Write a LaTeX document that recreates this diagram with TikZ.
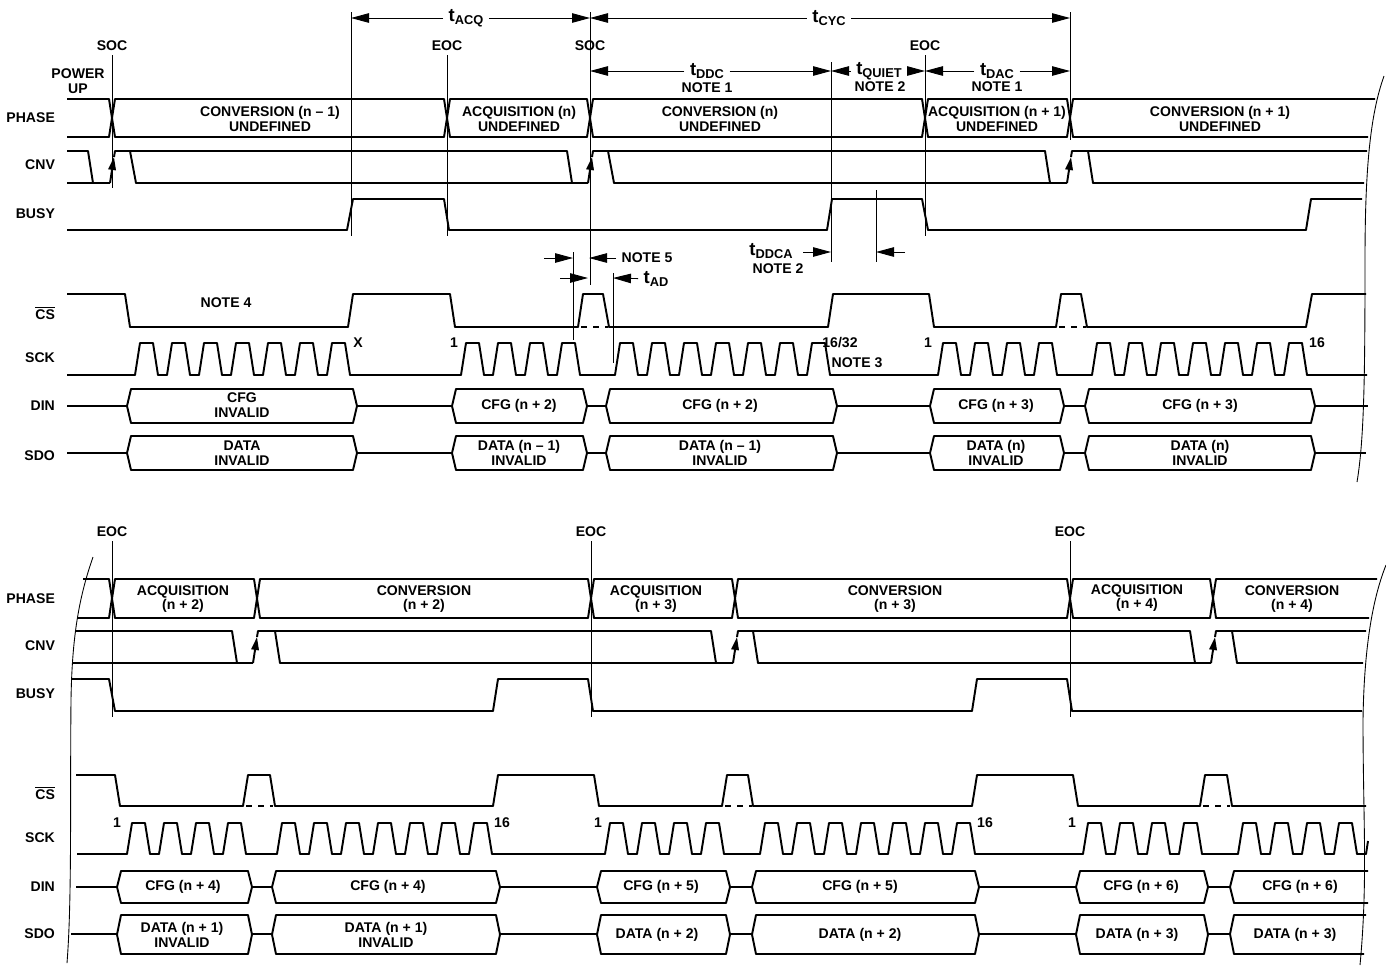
\documentclass[tikz,border=0pt]{standalone}
\usepackage{fontspec}
\setmainfont{Liberation Sans}
\usetikzlibrary{arrows.meta}

\tikzset{
  sig/.style={line width=1.1pt,line join=round},
  guide/.style={line width=0.5pt},
  dim/.style={line width=0.5pt,-{Triangle[length=3.6mm,width=1.9mm]}},
  edgearrow/.style={-{Triangle[length=2.6mm,width=1.5mm]}},
  lbl/.style={font=\fontsize{8}{8.3}\selectfont\bfseries,align=center,inner sep=1pt},
}

% bus segment: x left, x right, y top, y bottom, slant
\newcommand{\hexbus}[5]{%
  \draw[sig] (#1,{(#3+#4)/2}) -- ({#1+#5},#3) -- ({#2-#5},#3) -- (#2,{(#3+#4)/2}) -- ({#2-#5},#4) -- ({#1+#5},#4) -- cycle;}
% timing symbol with subscript
\newcommand{\tsym}[1]{{\fontsize{10.5}{11}\selectfont t}\raisebox{-0.45ex}{\fontsize{7.3}{8}\selectfont #1}}

\begin{document}
\begin{tikzpicture}[x=0.02cm,y=-0.02cm]
  \useasboundingbox (0,0) rectangle (1386,965);

  % ---------------- upper half ----------------
  \node[lbl,anchor=east] (phaseA) at (57,118) {PHASE};
  \node[lbl,anchor=east] (cnvA) at (57,165) {CNV};
  \node[lbl,anchor=east] (busyA) at (57,214) {BUSY};
  \node[lbl,anchor=east] (csA) at (57,313) {$\overline{\mbox{CS}}$};
  \node[lbl,anchor=east] (sckA) at (57,358) {SCK};
  \node[lbl,anchor=east] (dinA) at (57,406) {DIN};
  \node[lbl,anchor=east] (sdoA) at (57,456) {SDO};

  \node[lbl] (powerup) at (78,81) {POWER\\UP};
  \node[lbl] (socA) at (112,46) {SOC};
  \node[lbl] (eocA) at (447,46) {EOC};
  \node[lbl] (socB) at (590,46) {SOC};
  \node[lbl] (eocB) at (925,46) {EOC};

  \draw[guide] (112,55) -- (112,188);
  \draw[guide] (351,12) -- (351,236);
  \draw[guide] (447,55) -- (447,236);
  \draw[guide] (590,12) -- (590,285);
  \draw[guide] (831,62) -- (831,262);
  \draw[guide] (925,55) -- (925,236);
  \draw[guide] (1070,12) -- (1070,140);
  \draw[guide] (876,190) -- (876,262);
  \draw[guide] (573,252) -- (573,340);
  \draw[guide] (613,273) -- (613,363);

  % timing marks
  \coordinate (acqL) at (351,18);
  \coordinate (acqR) at (590,18);
  \coordinate (cycR) at (1070,18);
  \node[lbl,inner sep=3pt] (tacq) at (466,18) {\tsym{ACQ}};
  \node[lbl,inner sep=3pt] (tcyc) at (829,18) {\tsym{CYC}};
  \draw[dim] (tacq) -- (acqL);
  \draw[dim] (tacq) -- (acqR);
  \draw[dim] (tcyc) -- (acqR);
  \draw[dim] (tcyc) -- (cycR);

  \coordinate (ddcL) at (590,71);
  \coordinate (ddcR) at (831,71);
  \coordinate (dacL) at (925,71);
  \coordinate (dacR) at (1070,71);
  \node[lbl,inner sep=3pt] (tddc) at (707,71) {\tsym{DDC}};
  \node[lbl,inner sep=3pt] (tquiet) at (879,71) {\tsym{QUIET}};
  \node[lbl,inner sep=3pt] (tdac) at (997,71) {\tsym{DAC}};
  \draw[dim] (tddc) -- (ddcL);
  \draw[dim] (tddc) -- (ddcR);
  \draw[dim] (tquiet) -- (ddcR);
  \draw[dim] (tquiet) -- (dacL);
  \draw[dim] (tdac) -- (dacL);
  \draw[dim] (tdac) -- (dacR);
  \node[lbl] (note1a) at (707,88) {NOTE 1};
  \node[lbl] (note2a) at (880,87) {NOTE 2};
  \node[lbl] (note1b) at (997,87) {NOTE 1};

  \node[lbl] (tddca) at (771,251) {\tsym{DDCA}};
  \node[lbl] (note2b) at (778,269) {NOTE 2};
  \coordinate (ddcaA) at (803,252);
  \coordinate (ddcaB) at (831,252);
  \coordinate (ddcaC) at (905,252);
  \coordinate (ddcaD) at (876,252);
  \draw[dim] (ddcaA) -- (ddcaB);
  \draw[dim] (ddcaC) -- (ddcaD);

  \coordinate (n5a) at (544,258);
  \coordinate (n5b) at (573,258);
  \coordinate (n5c) at (589,258);
  \node[lbl,inner sep=3pt] (note5) at (647,258) {NOTE 5};
  \draw[dim] (n5a) -- (n5b);
  \draw[dim] (note5) -- (n5c);

  \coordinate (ada) at (560,278);
  \coordinate (adb) at (588,278);
  \coordinate (adc) at (613,278);
  \node[lbl,inner sep=3pt] (tad) at (656,279) {\tsym{AD}};
  \draw[dim] (ada) -- (adb);
  \draw[dim] (tad) -- (adc);

  % PHASE
  \draw[sig] (67,99) -- (109,99) -- (112,118) -- (109,137) -- (67,137);
  \hexbus{112}{447}{99}{137}{3}
  \hexbus{447}{590}{99}{137}{3}
  \hexbus{590}{925}{99}{137}{3}
  \hexbus{925}{1070}{99}{137}{3}
  \draw[sig] (1375,99) -- (1073,99) -- (1070,118) -- (1073,137) -- (1368,137);
  \node[lbl] (ph1) at (270,119) {CONVERSION (n -- 1)\\UNDEFINED};
  \node[lbl] (ph2) at (519,119) {ACQUISITION (n)\\UNDEFINED};
  \node[lbl] (ph3) at (720,119) {CONVERSION (n)\\UNDEFINED};
  \node[lbl] (ph4) at (997,119) {ACQUISITION (n + 1)\\UNDEFINED};
  \node[lbl] (ph5) at (1220,119) {CONVERSION (n + 1)\\UNDEFINED};

  % CNV
  \draw[sig] (67,151) -- (88,151) -- (93,183);
  \draw[sig] (67,183) -- (110,183);
  \draw[sig,edgearrow] (110,183) -- (114,157);
  \draw[sig] (114,157) -- (115,151) -- (567,151) -- (572,183);
  \draw[sig] (130,151) -- (136,183) -- (588,183);
  \draw[sig,edgearrow] (588,183) -- (592,157);
  \draw[sig] (592,157) -- (593,151) -- (1045,151) -- (1050,183);
  \draw[sig] (608,151) -- (614,183) -- (1067,183);
  \draw[sig,edgearrow] (1067,183) -- (1071,157);
  \draw[sig] (1071,157) -- (1072,151) -- (1367,151);
  \draw[sig] (1088,151) -- (1093,183) -- (1364,183);

  % BUSY
  \draw[sig] (67,230) -- (347,230) -- (353,199) -- (444,199) -- (449,230) -- (827,230) -- (832,199) -- (922,199) -- (928,230) -- (1306,230) -- (1311,199) -- (1362,199);

  % CS
  \draw[sig] (67,294) -- (125,294) -- (130,327) -- (348,327) -- (353,294) -- (450,294) -- (455,327) -- (578,327) -- (583,294) -- (603,294) -- (609,327) -- (828,327) -- (833,294) -- (929,294) -- (934,327) -- (1056,327) -- (1061,294) -- (1081,294) -- (1087,327) -- (1306,327) -- (1312,294) -- (1366,294);
  \draw[sig,dash pattern=on 1.2mm off 1.2mm] (581,327) -- (608,327);
  \draw[sig,dash pattern=on 1.2mm off 1.2mm] (1059,327) -- (1086,327);
  \node[lbl] (note4) at (226,303) {NOTE 4};

  % SCK
  \draw[sig] (67,375) -- (135,375)
    foreach \k in {1,...,7} {-- ++(5,-32) -- ++(13,0) -- ++(5,32) -- ++(9,0)} -- (461,375)
    foreach \k in {1,...,4} {-- ++(5,-32) -- ++(13,0) -- ++(5,32) -- ++(9,0)} -- (615,375)
    foreach \k in {1,...,7} {-- ++(5,-32) -- ++(13,0) -- ++(5,32) -- ++(9,0)} -- (938,375)
    foreach \k in {1,...,4} {-- ++(5,-32) -- ++(13,0) -- ++(5,32) -- ++(9,0)} -- (1092,375)
    foreach \k in {1,...,7} {-- ++(5,-32) -- ++(13,0) -- ++(5,32) -- ++(9,0)} -- (1367,375);
  \node[lbl] (xmark) at (358,343) {X};
  \node[lbl] (sck1a) at (454,343) {1};
  \node[lbl] (sck16a) at (840,343) {16/32};
  \node[lbl] (note3) at (857,363) {NOTE 3};
  \node[lbl] (sck1b) at (928,343) {1};
  \node[lbl] (sck16b) at (1317,343) {16};

  % DIN
  \draw[sig] (67,406) -- (127,406);
  \hexbus{127}{357}{389}{423}{4}
  \draw[sig] (357,406) -- (452,406);
  \hexbus{452}{587}{389}{423}{4}
  \draw[sig] (587,406) -- (606,406);
  \hexbus{606}{837}{389}{423}{4}
  \draw[sig] (837,406) -- (930,406);
  \hexbus{930}{1064}{389}{423}{4}
  \draw[sig] (1064,406) -- (1085,406);
  \hexbus{1085}{1315}{389}{423}{4}
  \draw[sig] (1315,406) -- (1368,406);
  \node[lbl] (din1) at (242,405) {CFG\\INVALID};
  \node[lbl] (din2) at (519,406) {CFG (n + 2)};
  \node[lbl] (din3) at (720,406) {CFG (n + 2)};
  \node[lbl] (din4) at (996,406) {CFG (n + 3)};
  \node[lbl] (din5) at (1200,406) {CFG (n + 3)};

  % SDO
  \draw[sig] (67,453) -- (127,453);
  \hexbus{127}{357}{436}{470}{4}
  \draw[sig] (357,453) -- (452,453);
  \hexbus{452}{587}{436}{470}{4}
  \draw[sig] (587,453) -- (606,453);
  \hexbus{606}{837}{436}{470}{4}
  \draw[sig] (837,453) -- (930,453);
  \hexbus{930}{1064}{436}{470}{4}
  \draw[sig] (1064,453) -- (1085,453);
  \hexbus{1085}{1315}{436}{470}{4}
  \draw[sig] (1315,453) -- (1366,453);
  \node[lbl] (sdo1) at (242,453) {DATA\\INVALID};
  \node[lbl] (sdo2) at (519,453) {DATA (n -- 1)\\INVALID};
  \node[lbl] (sdo3) at (720,453) {DATA (n -- 1)\\INVALID};
  \node[lbl] (sdo4) at (996,453) {DATA (n)\\INVALID};
  \node[lbl] (sdo5) at (1200,453) {DATA (n)\\INVALID};

  % break line
  \draw[guide] (1384,76) .. controls (1370,115) and (1365,170) .. (1365,260) .. controls (1365,380) and (1364,440) .. (1357,482);

  % ---------------- lower half ----------------
  \node[lbl,anchor=east] (phaseB) at (57,599) {PHASE};
  \node[lbl,anchor=east] (cnvB) at (57,646) {CNV};
  \node[lbl,anchor=east] (busyB) at (57,694) {BUSY};
  \node[lbl,anchor=east] (csB) at (57,793) {$\overline{\mbox{CS}}$};
  \node[lbl,anchor=east] (sckB) at (57,838) {SCK};
  \node[lbl,anchor=east] (dinB) at (57,887) {DIN};
  \node[lbl,anchor=east] (sdoB) at (57,934) {SDO};

  \node[lbl] (eocC) at (112,532) {EOC};
  \node[lbl] (eocD) at (591,532) {EOC};
  \node[lbl] (eocE) at (1070,532) {EOC};
  \draw[guide] (112,541) -- (112,717);
  \draw[guide] (591,541) -- (591,717);
  \draw[guide] (1070,541) -- (1070,717);

  % PHASE
  \draw[sig] (83,579) -- (109,579) -- (112,598) -- (109,618) -- (77,618);
  \hexbus{112}{257}{579}{618}{3}
  \hexbus{257}{591}{579}{618}{3}
  \hexbus{591}{735}{579}{618}{3}
  \hexbus{735}{1070}{579}{618}{3}
  \hexbus{1070}{1213}{579}{618}{3}
  \draw[sig] (1377,579) -- (1216,579) -- (1213,598) -- (1216,618) -- (1369,618);
  \node[lbl] (ph6) at (183,599) {ACQUISITION\\(n + 2)};
  \node[lbl] (ph7) at (424,599) {CONVERSION\\(n + 2)};
  \node[lbl] (ph8) at (656,599) {ACQUISITION\\(n + 3)};
  \node[lbl] (ph9) at (895,599) {CONVERSION\\(n + 3)};
  \node[lbl] (ph10) at (1137,598) {ACQUISITION\\(n + 4)};
  \node[lbl] (ph11) at (1292,599) {CONVERSION\\(n + 4)};

  % CNV
  \draw[sig] (75,631) -- (232,631) -- (237,663);
  \draw[sig] (73,663) -- (253,663);
  \draw[sig,edgearrow] (253,663) -- (257,637);
  \draw[sig] (257,637) -- (258,631) -- (711,631) -- (716,663);
  \draw[sig] (275,631) -- (280,663) -- (733,663);
  \draw[sig,edgearrow] (733,663) -- (737,637);
  \draw[sig] (737,637) -- (738,631) -- (1190,631) -- (1195,663);
  \draw[sig] (753,631) -- (758,663) -- (1211,663);
  \draw[sig,edgearrow] (1211,663) -- (1215,637);
  \draw[sig] (1215,637) -- (1216,631) -- (1366,631);
  \draw[sig] (1232,631) -- (1237,663) -- (1363,663);

  % BUSY
  \draw[sig] (72,679) -- (109,679) -- (115,711) -- (493,711) -- (498,679) -- (588,679) -- (593,711) -- (972,711) -- (977,679) -- (1067,679) -- (1072,711) -- (1362,711);

  % CS
  \draw[sig] (76,775) -- (115,775) -- (120,806) -- (243,806) -- (248,775) -- (270,775) -- (275,806) -- (493,806) -- (498,775) -- (594,775) -- (599,806) -- (722,806) -- (727,775) -- (748,775) -- (753,806) -- (972,806) -- (977,775) -- (1073,775) -- (1078,806) -- (1200,806) -- (1205,775) -- (1227,775) -- (1232,806) -- (1366,806);
  \draw[sig,dash pattern=on 1.2mm off 1.2mm] (246,806) -- (273,806);
  \draw[sig,dash pattern=on 1.2mm off 1.2mm] (725,806) -- (752,806);
  \draw[sig,dash pattern=on 1.2mm off 1.2mm] (1203,806) -- (1230,806);

  % SCK
  \draw[sig] (77,854) -- (127,854)
    foreach \k in {1,...,4} {-- ++(5,-31) -- ++(13,0) -- ++(5,31) -- ++(9,0)} -- (277,854)
    foreach \k in {1,...,7} {-- ++(5,-31) -- ++(13,0) -- ++(5,31) -- ++(9,0)} -- (605,854)
    foreach \k in {1,...,4} {-- ++(5,-31) -- ++(13,0) -- ++(5,31) -- ++(9,0)} -- (760,854)
    foreach \k in {1,...,7} {-- ++(5,-31) -- ++(13,0) -- ++(5,31) -- ++(9,0)} -- (1083,854)
    foreach \k in {1,...,4} {-- ++(5,-31) -- ++(13,0) -- ++(5,31) -- ++(9,0)} -- (1238,854)
    foreach \k in {1,...,4} {-- ++(5,-31) -- ++(13,0) -- ++(5,31) -- ++(9,0)} -- ++(2,-13);
  \node[lbl] (sck1c) at (117,823) {1};
  \node[lbl] (sck16c) at (502,823) {16};
  \node[lbl] (sck1d) at (598,823) {1};
  \node[lbl] (sck16d) at (985,823) {16};
  \node[lbl] (sck1e) at (1072,823) {1};

  % DIN
  \draw[sig] (76,887) -- (117,887);
  \hexbus{117}{252}{871}{903}{4}
  \draw[sig] (252,887) -- (272,887);
  \hexbus{272}{500}{871}{903}{4}
  \draw[sig] (500,887) -- (597,887);
  \hexbus{597}{730}{871}{903}{4}
  \draw[sig] (730,887) -- (752,887);
  \hexbus{752}{979}{871}{903}{4}
  \draw[sig] (979,887) -- (1076,887);
  \hexbus{1076}{1208}{871}{903}{4}
  \draw[sig] (1208,887) -- (1230,887);
  \draw[sig] (1368,871) -- (1234,871) -- (1230,887) -- (1234,903) -- (1368,903);
  \node[lbl] (din6) at (183,887) {CFG (n + 4)};
  \node[lbl] (din7) at (388,887) {CFG (n + 4)};
  \node[lbl] (din8) at (661,887) {CFG (n + 5)};
  \node[lbl] (din9) at (860,887) {CFG (n + 5)};
  \node[lbl] (din10) at (1141,887) {CFG (n + 6)};
  \node[lbl] (din11) at (1300,887) {CFG (n + 6)};

  % SDO
  \draw[sig] (71,934) -- (117,934);
  \hexbus{117}{252}{915}{954}{4}
  \draw[sig] (252,934) -- (272,934);
  \hexbus{272}{500}{915}{954}{4}
  \draw[sig] (500,934) -- (597,934);
  \hexbus{597}{730}{915}{954}{4}
  \draw[sig] (730,934) -- (752,934);
  \hexbus{752}{979}{915}{954}{4}
  \draw[sig] (979,934) -- (1076,934);
  \hexbus{1076}{1208}{915}{954}{4}
  \draw[sig] (1208,934) -- (1230,934);
  \draw[sig] (1366,915) -- (1234,915) -- (1230,934) -- (1234,954) -- (1364,954);
  \node[lbl] (sdo6) at (182,935) {DATA (n + 1)\\INVALID};
  \node[lbl] (sdo7) at (386,935) {DATA (n + 1)\\INVALID};
  \node[lbl] (sdo8) at (657,935) {DATA (n + 2)};
  \node[lbl] (sdo9) at (860,935) {DATA (n + 2)};
  \node[lbl] (sdo10) at (1137,935) {DATA (n + 3)};
  \node[lbl] (sdo11) at (1295,935) {DATA (n + 3)};

  % break lines
  \draw[guide] (93,557) .. controls (78,600) and (72,640) .. (71,700) .. controls (70,800) and (72,900) .. (67,963);
  \draw[guide] (1386,565) .. controls (1372,600) and (1364,650) .. (1363,720) .. controls (1363,820) and (1368,880) .. (1360,965);
\end{tikzpicture}
\end{document}
